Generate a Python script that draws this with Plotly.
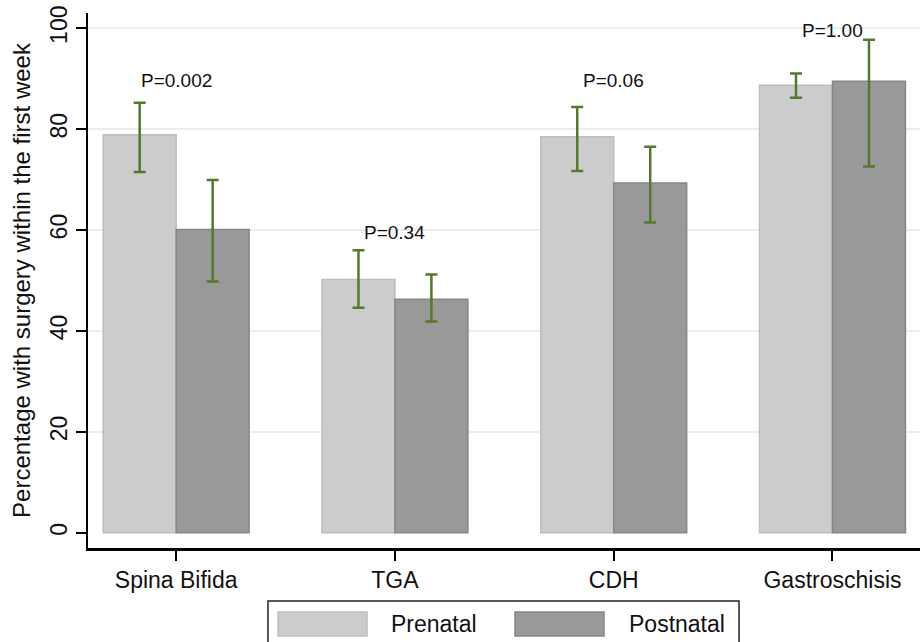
import plotly.graph_objects as go
import numpy as np

categories = ["Spina Bifida", "TGA", "CDH", "Gastroschisis"]
prenatal = [78.9, 50.2, 78.5, 88.7]
prenatal_hi = [85.2, 56.0, 84.4, 91.0]
prenatal_lo = [71.5, 44.6, 71.7, 86.2]
postnatal = [60.1, 46.3, 69.3, 89.5]
postnatal_hi = [69.9, 51.2, 76.5, 97.7]
postnatal_lo = [49.8, 41.9, 61.5, 72.6]
p_labels = ["P=0.002", "P=0.34", "P=0.06", "P=1.00"]
p_label_y = [89.6, 59.5, 89.6, 99.5]
y_ticks = [0, 20, 40, 60, 80, 100]

FONT = "Liberation Sans, Arial, sans-serif"
ERR = "#55782c"

def err(vals, hi, lo):
    v = np.array(vals); h = np.array(hi); l = np.array(lo)
    return dict(type="data", array=(h - v).tolist(), arrayminus=(v - l).tolist(),
                color=ERR, thickness=2.5, width=6, visible=True)

fig = go.Figure()
fig.add_trace(go.Bar(x=categories, y=prenatal, name="Prenatal",
                     marker=dict(color="#cccccc", line=dict(color="#bdbdbd", width=1.5)),
                     error_y=err(prenatal, prenatal_hi, prenatal_lo)))
fig.add_trace(go.Bar(x=categories, y=postnatal, name="Postnatal",
                     marker=dict(color="#999999", line=dict(color="#878787", width=1.5)),
                     error_y=err(postnatal, postnatal_hi, postnatal_lo)))

for c, t, yy in zip(categories, p_labels, p_label_y):
    fig.add_annotation(x=c, y=yy, text=t, showarrow=False,
                       font=dict(family=FONT, size=19, color="#111111"))

# custom legend (box, swatches, labels) in paper coordinates
shapes = [
    dict(type="rect", xref="paper", yref="paper", x0=0.2163, x1=0.7825, y0=-0.19, y1=-0.0991,
         line=dict(color="#222222", width=1.5), fillcolor="white", layer="above"),
    dict(type="rect", xref="paper", yref="paper", x0=0.2284, x1=0.3353, y0=-0.1645, y1=-0.1196,
         line=dict(color="#bdbdbd", width=1.5), fillcolor="#cccccc", layer="above"),
    dict(type="rect", xref="paper", yref="paper", x0=0.5132, x1=0.6202, y0=-0.1645, y1=-0.1196,
         line=dict(color="#878787", width=1.5), fillcolor="#999999", layer="above"),
]
fig.add_annotation(xref="paper", yref="paper", x=0.3618, y=-0.142, text="Prenatal",
                   showarrow=False, xanchor="left", yanchor="middle",
                   font=dict(family=FONT, size=23, color="#111111"))
fig.add_annotation(xref="paper", yref="paper", x=0.6478, y=-0.142, text="Postnatal",
                   showarrow=False, xanchor="left", yanchor="middle",
                   font=dict(family=FONT, size=23, color="#111111"))

fig.update_layout(
    width=920, height=642,
    margin=dict(l=88, r=0, t=13, b=94),
    paper_bgcolor="white", plot_bgcolor="white",
    barmode="group", bargap=0.333, bargroupgap=0,
    showlegend=False,
    shapes=shapes,
    font=dict(family=FONT, color="#111111"),
)
fig.update_xaxes(
    range=[-0.403, 3.4], showline=True, linecolor="black", linewidth=2.5,
    ticks="outside", ticklen=10, tickwidth=2, tickcolor="black",
    tickfont=dict(family=FONT, size=23, color="#111111"), showgrid=False,
)
fig.update_yaxes(
    range=[-3, 103], tickvals=y_ticks, showline=True, linecolor="black", linewidth=2,
    ticks="outside", ticklen=10, tickwidth=2, tickcolor="black", tickangle=-90,
    tickfont=dict(family=FONT, size=23, color="#111111"),
    showgrid=True, gridcolor="#e6eff1", gridwidth=2,
    zeroline=True, zerolinecolor="white", zerolinewidth=3,
    title=dict(text="Percentage with surgery within the first week",
               font=dict(family=FONT, size=24, color="#111111"), standoff=8),
    automargin=False,
)

fig.write_html("out.html", config={"displayModeBar": False},
               post_script="document.body.style.margin='0';document.body.style.overflow='hidden';")
